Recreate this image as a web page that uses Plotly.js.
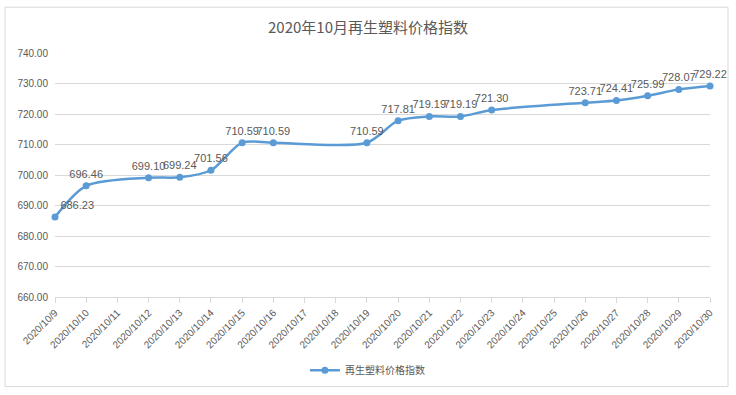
<!DOCTYPE html>
<html>
<head>
<meta charset="utf-8">
<script src="https://cdn.plot.ly/plotly-3.0.1.min.js"></script>
<style>html,body{margin:0;padding:0;background:#fff;}#chart{width:736px;height:395px;}</style>
</head>
<body>
<div id="chart"></div>
<script>
const allDates = ["2020/10/9","2020/10/10","2020/10/11","2020/10/12","2020/10/13","2020/10/14","2020/10/15","2020/10/16","2020/10/17","2020/10/18","2020/10/19","2020/10/20","2020/10/21","2020/10/22","2020/10/23","2020/10/24","2020/10/25","2020/10/26","2020/10/27","2020/10/28","2020/10/29","2020/10/30"];
const dataDates = ["2020/10/9","2020/10/10","2020/10/12","2020/10/13","2020/10/14","2020/10/15","2020/10/16","2020/10/19","2020/10/20","2020/10/21","2020/10/22","2020/10/23","2020/10/26","2020/10/27","2020/10/28","2020/10/29","2020/10/30"];
const values = [686.23,696.46,699.10,699.24,701.56,710.59,710.59,710.59,717.81,719.19,719.19,721.30,723.71,724.41,725.99,728.07,729.22];
const seriesName = "再生塑料价格指数";
const titleText = "2020年10月再生塑料价格指数";

const grey = "#595959";
const trace = {
  type: "scatter",
  mode: "lines+markers+text",
  x: dataDates,
  y: values,
  name: seriesName,
  text: values.map(v => v.toFixed(2)),
  textposition: values.map((v, i) => i === 0 ? "top right" : "top center"),
  textfont: {family: "Liberation Sans, Arial, sans-serif", size: 11, color: grey},
  line: {color: "#5b9bd5", width: 2.5, shape: "spline", smoothing: 0.8},
  marker: {color: "#5b9bd5", size: 7},
  cliponaxis: false,
  hoverinfo: "x+y"
};

const layout = {
  width: 736, height: 395,
  margin: {l: 55, r: 26, t: 53, b: 97},
  paper_bgcolor: "#fff", plot_bgcolor: "#fff",
  title: {text: titleText, x: 0.5, xanchor: "center", y: 0.93, yanchor: "middle",
          font: {family: "Noto Sans CJK SC, sans-serif", size: 15, color: grey}},
  xaxis: {
    type: "category",
    categoryorder: "array",
    categoryarray: allDates,
    range: [0, allDates.length - 1],
    tickvals: allDates,
    ticktext: allDates,
    tickangle: -45,
    tickfont: {family: "Liberation Sans, Arial, sans-serif", size: 10, color: grey},
    showgrid: false,
    showline: true, linecolor: "#d9d9d9", linewidth: 1,
    ticks: "outside", ticklen: 5, tickcolor: "#d9d9d9",
    zeroline: false, fixedrange: true
  },
  yaxis: {
    range: [660, 740],
    dtick: 10, tick0: 660,
    tickformat: ".2f",
    tickfont: {family: "Liberation Sans, Arial, sans-serif", size: 10, color: grey},
    showgrid: true, gridcolor: "#d9d9d9", gridwidth: 1,
    zeroline: false, showline: false, ticks: "",
    ticklabelstandoff: 6,
    fixedrange: true
  },
  showlegend: true,
  legend: {orientation: "h", x: 0.477, xanchor: "center", y: -0.295, yanchor: "middle",
           font: {family: "Noto Sans CJK SC, sans-serif", size: 10, color: grey}},
  shapes: [{
    type: "rect", xref: "paper", yref: "paper",
    x0: -0.0763, x1: 1.0275, y0: -0.367, y1: 1.1878,
    line: {color: "#d9d9d9", width: 1}, fillcolor: "rgba(0,0,0,0)", layer: "below"
  }]
};

Plotly.newPlot("chart", [trace], layout, {displayModeBar: false, staticPlot: true});
</script>
</body>
</html>
